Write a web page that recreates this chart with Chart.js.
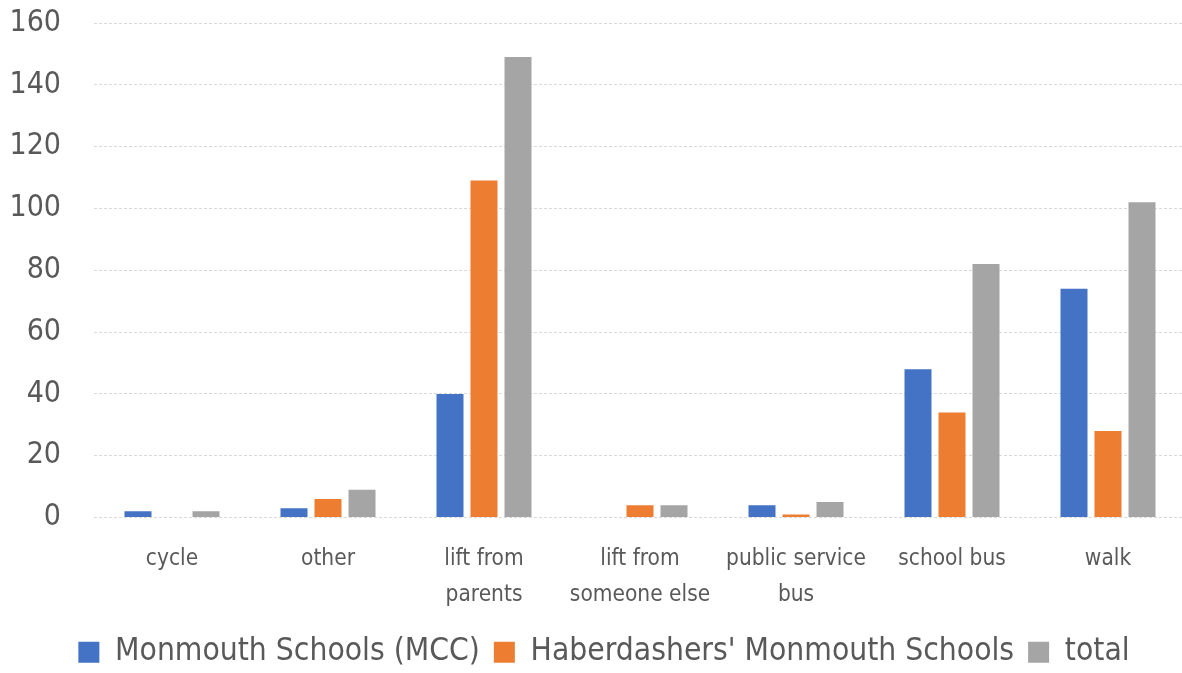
<!DOCTYPE html>
<html>
<head>
<meta charset="utf-8">
<script src="https://cdn.jsdelivr.net/npm/chart.js@4/dist/chart.umd.min.js"></script>
<style>
  html, body { margin: 0; padding: 0; background: #ffffff; overflow: hidden; }
  #wrap { width: 1208px; height: 706px; position: absolute; left: 0; top: -28px; }
</style>
</head>
<body>
<div id="wrap"><canvas id="c"></canvas></div>
<script>
const categories = ['cycle', 'other', ['lift from', 'parents'], ['lift from', 'someone else'], ['public service', 'bus'], 'school bus', 'walk'];
const seriesNames = ['Monmouth Schools (MCC)', "Haberdashers' Monmouth Schools", 'total'];
const mccValues = [2, 3, 40, 0, 4, 48, 74];
const habValues = [0, 6, 109, 4, 1, 34, 28];
const totalValues = [2, 9, 149, 4, 5, 82, 102];
const yTicks = [0, 20, 40, 60, 80, 100, 120, 140, 160];

const FONT = "'DejaVu Sans Condensed', 'Liberation Sans', sans-serif";
const TEXT = '#595959';

new Chart(document.getElementById('c'), {
  type: 'bar',
  data: {
    labels: categories,
    datasets: [
      { label: seriesNames[0], data: mccValues, backgroundColor: '#4472C4' },
      { label: seriesNames[1], data: habValues, backgroundColor: '#ED7D31' },
      { label: seriesNames[2], data: totalValues, backgroundColor: '#A5A5A5' }
    ]
  },
  options: {
    responsive: true,
    maintainAspectRatio: false,
    animation: false,
    layout: { autoPadding: false, padding: { top: 23, right: 0, left: 0, bottom: 0 } },
    datasets: { bar: { categoryPercentage: 0.654, barPercentage: 0.794 } },
    plugins: {
      tooltip: { enabled: false },
      legend: {
        position: 'bottom',
        labels: {
          font: { family: FONT, size: 31.5 },
          color: TEXT,
          boxWidth: 21,
          boxHeight: 21,
          padding: 14
        }
      }
    },
    scales: {
      x: {
        grid: { display: false, drawTicks: false },
        border: { display: false },
        ticks: {
          font: { family: FONT, size: 22.5, lineHeight: 1.6 },
          color: TEXT,
          padding: 24,
          maxRotation: 0,
          autoSkip: false
        },
        afterFit: (s) => { s.height = 105; }
      },
      y: {
        min: 0,
        max: 160,
        afterBuildTicks: (s) => { s.ticks = yTicks.map(v => ({ value: v })); },
        grid: { color: '#d9d9d9', lineWidth: 1, drawTicks: false },
        border: { display: false, dash: [3, 2] },
        ticks: {
          font: { family: FONT, size: 30 },
          color: TEXT,
          padding: 33
        },
        afterFit: (s) => { s.width = 94; }
      },
      yRight: {
        type: 'linear',
        position: 'right',
        display: true,
        grid: { display: false, drawTicks: false },
        border: { display: false },
        ticks: { display: false },
        afterFit: (s) => { s.width = 22; }
      }
    }
  }
});
</script>
</body>
</html>
